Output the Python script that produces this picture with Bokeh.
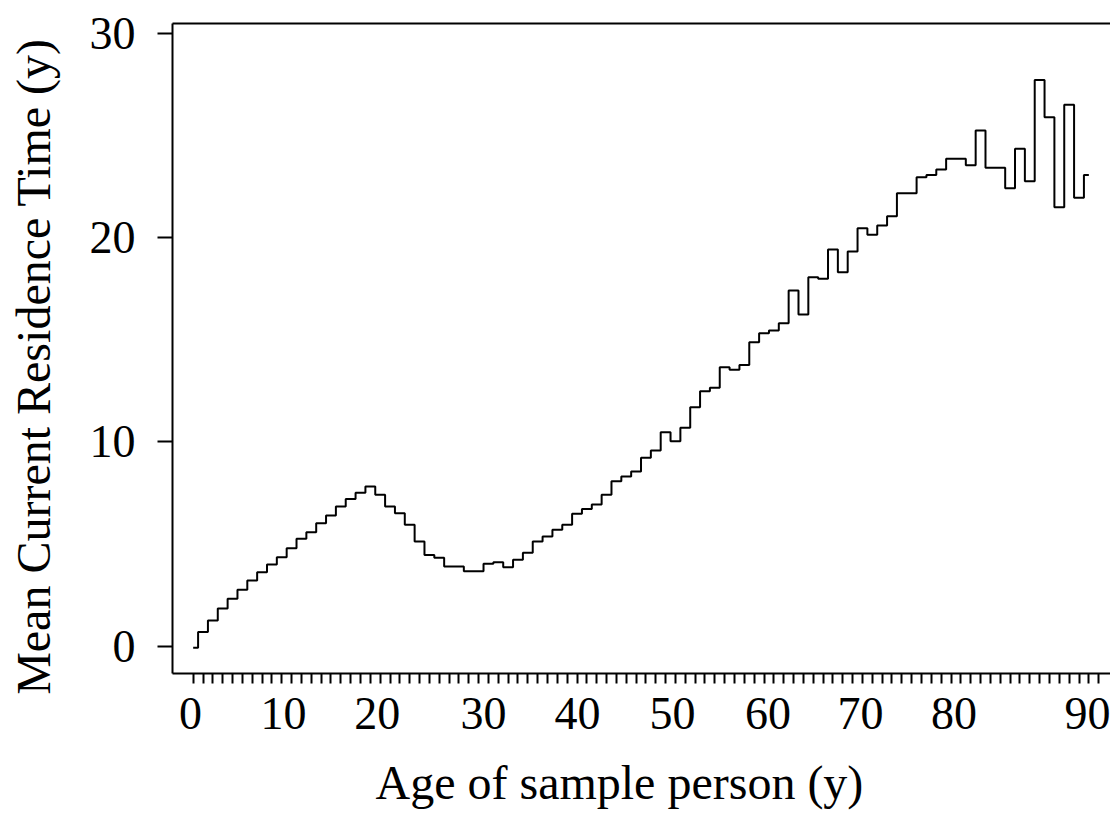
from bokeh.plotting import figure
from bokeh.models import FixedTicker, LinearAxis, Range1d, Title
from bokeh.embed import file_html
from bokeh.resources import INLINE

# ---- data ----
ages = list(range(92))
mean_residence = [
    -0.08, 0.69, 1.26, 1.85, 2.32, 2.76, 3.22, 3.62, 4.00, 4.36,
    4.80, 5.26, 5.58, 6.02, 6.40, 6.84, 7.21, 7.51, 7.82, 7.41,
    6.84, 6.51, 5.94, 5.12, 4.46, 4.33, 3.90, 3.90, 3.67, 3.67,
    4.03, 4.11, 3.87, 4.23, 4.57, 5.12, 5.37, 5.70, 5.95, 6.48,
    6.72, 6.94, 7.41, 8.08, 8.31, 8.55, 9.22, 9.58, 10.47, 10.03,
    10.69, 11.70, 12.48, 12.65, 13.66, 13.53, 13.77, 14.88, 15.32, 15.45,
    15.81, 17.41, 16.24, 18.06, 17.98, 19.42, 18.31, 19.32, 20.46, 20.14,
    20.59, 21.04, 22.17, 22.17, 22.96, 23.07, 23.33, 23.86, 23.86, 23.54,
    25.24, 23.42, 23.42, 22.42, 24.35, 22.76, 27.72, 25.89, 21.49, 26.50,
    21.95, 23.07,
]
x_tick_labels = ["0", "10", "20", "30", "40", "50", "60", "70", "80", "90"]
x_minor_ticks = list(range(0, 93))
y_major_ticks = [0, 10, 20, 30]
x_title = "Age of sample person (y)"
y_title = "Mean Current Residence Time (y)"

# where the reference prints its x labels (axis units); layout, not data
x_label_pos = [-0.27, 9.18, 18.7, 29.5, 39.05, 48.7, 58.4, 67.8, 77.3, 91.4]

FONT = "Liberation Serif"
FS = "46px"
FS_TITLE = "48px"

p = figure(
    width=1110, height=831,
    output_backend="svg", toolbar_location=None,
    x_range=Range1d(-2.1, 93.2), y_range=Range1d(-1.336, 30.48),
    min_border_left=172, min_border_right=0, min_border_top=23, min_border_bottom=158,
)
p.step(ages, mean_residence, mode="center", line_color="black", line_width=2)

p.grid.visible = False
p.outline_line_color = None
p.background_fill_color = "white"
p.border_fill_color = "white"

# x axis
xa = p.xaxis[0]
xa.ticker = FixedTicker(ticks=x_label_pos, minor_ticks=x_minor_ticks)
xa.major_label_overrides = {pos: lab for pos, lab in zip(x_label_pos, x_tick_labels)}
xa.major_tick_in = 0
xa.major_tick_out = 10
xa.major_tick_line_color = None
xa.minor_tick_in = 0
xa.minor_tick_out = 10
xa.minor_tick_line_width = 2
xa.minor_tick_line_color = "black"
xa.axis_line_width = 2
xa.axis_line_color = "black"
xa.major_label_standoff = 14
xa.major_label_text_font = FONT
xa.major_label_text_font_size = FS
xa.major_label_text_color = "black"

# y axis
ya = p.yaxis[0]
ya.ticker = FixedTicker(ticks=y_major_ticks)
ya.major_tick_in = 0
ya.major_tick_out = 15
ya.minor_tick_line_color = None
ya.major_tick_line_width = 2
ya.major_tick_line_color = "black"
ya.axis_line_width = 2
ya.axis_line_color = "black"
ya.major_label_standoff = 22
ya.major_label_text_font = FONT
ya.major_label_text_font_size = FS
ya.major_label_text_color = "black"
# trailing no-break spaces nudge the centred title toward the axis origin, as in the reference
ya.axis_label = y_title + "\u00a0" * 3
ya.axis_label_text_font = FONT
ya.axis_label_text_font_size = FS_TITLE
ya.axis_label_text_font_style = "normal"
ya.axis_label_text_color = "black"
ya.axis_label_standoff = 27

# x axis title
xt = Title(text=x_title, align="left", offset=203,
           text_font=FONT, text_font_size=FS_TITLE, text_font_style="normal",
           text_color="black", standoff=44)
p.add_layout(xt, "below")

# top frame line
top = LinearAxis(ticker=FixedTicker(ticks=[]), major_tick_line_color=None,
                 minor_tick_line_color=None, major_label_text_font_size="0px",
                 axis_line_width=2, axis_line_color="black")
p.add_layout(top, "above")

open("out.html", "w").write(file_html(p, INLINE))
